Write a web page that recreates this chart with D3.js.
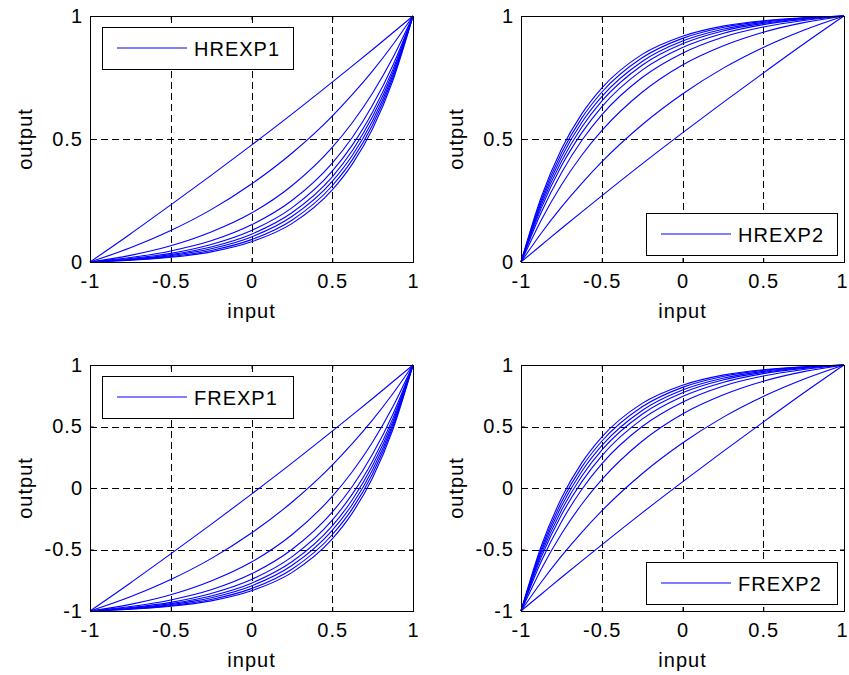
<!DOCTYPE html>
<html>
<head>
<meta charset="utf-8">
<script src="https://cdn.jsdelivr.net/npm/d3@7"></script>
<style>
  body { margin: 0; background: #fff; }
  svg { display: block; font-family: "Liberation Sans", Arial, Helvetica, sans-serif; }
</style>
</head>
<body>
<svg id="chart" width="849" height="675"></svg>
<script>
// sample inputs (read at these x positions)
const xsRise = [-1, -0.75, -0.5, -0.25, 0, 0.25, 0.5, 0.625, 0.75, 0.875, 1];
const xsSat  = [-1, -0.875, -0.75, -0.625, -0.5, -0.25, 0, 0.25, 0.5, 0.75, 1];

const hrexp1 = [
    [0, .114, .232, .352, .475, .601, .731, .797, .864, .932, 1],
    [0, .058, .128, .213, .317, .442, .593, .681, .777, .883, 1],
    [0, .027, .066, .122, .199, .310, .466, .567, .687, .830, 1],
    [0, .018, .045, .086, .151, .250, .402, .507, .638, .799, 1],
    [0, .014, .035, .071, .128, .220, .369, .476, .610, .782, 1],
    [0, .011, .030, .061, .113, .200, .346, .453, .591, .769, 1],
    [0, .009, .026, .054, .102, .185, .328, .434, .574, .758, 1],
    [0, .008, .022, .047, .091, .170, .310, .416, .558, .748, 1],
    [0, .007, .019, .041, .082, .156, .293, .399, .542, .737, 1]
];

const hrexp2 = [
    [0, .068, .136, .203, .269, .399, .525, .648, .768, .886, 1],
    [0, .117, .223, .319, .407, .558, .683, .787, .872, .942, 1],
    [0, .170, .313, .433, .534, .690, .801, .878, .934, .973, 1],
    [0, .201, .362, .493, .598, .750, .849, .914, .955, .982, 1],
    [0, .218, .390, .524, .631, .780, .872, .929, .965, .986, 1],
    [0, .231, .409, .547, .654, .800, .887, .939, .970, .989, 1],
    [0, .242, .426, .566, .672, .815, .898, .946, .974, .991, 1],
    [0, .252, .442, .584, .690, .830, .909, .953, .978, .992, 1],
    [0, .263, .458, .601, .707, .844, .918, .959, .981, .993, 1]
];

const frexp1 = [
    [-1, -.772, -.536, -.296, -.050, .202, .462, .594, .728, .864, 1],
    [-1, -.884, -.744, -.574, -.366, -.116, .186, .362, .554, .766, 1],
    [-1, -.946, -.868, -.756, -.602, -.380, -.068, .134, .374, .660, 1],
    [-1, -.964, -.910, -.828, -.698, -.500, -.196, .014, .276, .598, 1],
    [-1, -.972, -.930, -.858, -.744, -.560, -.262, -.048, .220, .564, 1],
    [-1, -.978, -.940, -.878, -.774, -.600, -.308, -.094, .182, .538, 1],
    [-1, -.982, -.948, -.892, -.796, -.630, -.344, -.132, .148, .516, 1],
    [-1, -.984, -.956, -.906, -.818, -.660, -.380, -.168, .116, .496, 1],
    [-1, -.986, -.962, -.918, -.836, -.688, -.414, -.202, .084, .474, 1]
];

const frexp2 = [
    [-1, -.864, -.728, -.594, -.462, -.202, .050, .296, .536, .772, 1],
    [-1, -.766, -.554, -.362, -.186, .116, .366, .574, .744, .884, 1],
    [-1, -.660, -.374, -.134, .068, .380, .602, .756, .868, .946, 1],
    [-1, -.598, -.276, -.014, .196, .500, .698, .828, .910, .964, 1],
    [-1, -.564, -.220, .048, .262, .560, .744, .858, .930, .972, 1],
    [-1, -.538, -.182, .094, .308, .600, .774, .878, .940, .978, 1],
    [-1, -.516, -.148, .132, .344, .630, .796, .892, .948, .982, 1],
    [-1, -.496, -.116, .168, .380, .660, .818, .906, .956, .984, 1],
    [-1, -.474, -.084, .202, .414, .688, .836, .918, .962, .986, 1]
];

const xTicks = [-1, -0.5, 0, 0.5, 1];
const yTicksHalf = [0, 0.5, 1];
const yTicksFull = [-1, -0.5, 0, 0.5, 1];

const BLUE = "#0000ff";
const FONT = 20;

const panels = [
    { name: "HREXP1", xs: xsRise, curves: hrexp1, yTicks: yTicksHalf, x: 90,  y: 16,  legend: "tl" },
    { name: "HREXP2", xs: xsSat,  curves: hrexp2, yTicks: yTicksHalf, x: 521, y: 16,  legend: "br" },
    { name: "FREXP1", xs: xsRise, curves: frexp1, yTicks: yTicksFull, x: 90,  y: 365, legend: "tl" },
    { name: "FREXP2", xs: xsSat,  curves: frexp2, yTicks: yTicksFull, x: 521, y: 365, legend: "br" }
];
const PW = 323, PH = 246;

const svg = d3.select("#chart");
const fmt = d => String(d);

panels.forEach(p => {
    const g = svg.append("g").attr("transform", `translate(${p.x},${p.y})`);
    const x = d3.scaleLinear().domain([-1, 1]).range([0, PW]);
    const y = d3.scaleLinear().domain(d3.extent(p.yTicks)).range([PH, 0]);

    // grid
    const grid = g.append("g")
        .attr("stroke", "#000")
        .attr("stroke-width", 1)
        .attr("stroke-dasharray", "7,4");
    grid.selectAll("line.gx")
        .data(xTicks.slice(1, -1))
        .join("line")
        .attr("class", "gx")
        .attr("x1", d => Math.round(x(d)) + 0.5).attr("x2", d => Math.round(x(d)) + 0.5)
        .attr("y1", 0).attr("y2", PH);
    grid.selectAll("line.gy")
        .data(p.yTicks.slice(1, -1))
        .join("line")
        .attr("class", "gy")
        .attr("x1", 0).attr("x2", PW)
        .attr("y1", d => Math.round(y(d)) + 0.5).attr("y2", d => Math.round(y(d)) + 0.5);

    // curves
    const line = d3.line()
        .x((d, i) => x(p.xs[i]))
        .y(d => y(d))
        .curve(d3.curveMonotoneX);
    g.append("g").selectAll("path")
        .data(p.curves)
        .join("path")
        .attr("d", line)
        .attr("fill", "none")
        .attr("stroke", BLUE)
        .attr("stroke-width", 1.1);

    // axes (ticks inside, MATLAB style)
    g.append("g").attr("transform", `translate(0,${PH})`)
        .call(d3.axisBottom(x).tickValues(xTicks).tickFormat(fmt).tickSize(-4).tickPadding(12));
    g.append("g")
        .call(d3.axisLeft(y).tickValues(p.yTicks).tickFormat(fmt).tickSize(-4).tickPadding(7));
    g.append("g").call(d3.axisTop(x).tickValues(xTicks).tickFormat("").tickSize(-4));
    g.append("g").attr("transform", `translate(${PW},0)`)
        .call(d3.axisRight(y).tickValues(p.yTicks).tickFormat("").tickSize(-4));
    g.selectAll(".domain").remove();
    g.selectAll(".tick line").attr("stroke", "#000");
    g.selectAll(".tick text")
        .attr("font-size", FONT)
        .attr("font-family", "Liberation Sans, Arial, sans-serif")
        .attr("letter-spacing", 1)
        .attr("fill", "#000");
    // keep the last x label inside the page on the right-hand panels
    if (p.x + PW > 800) {
        g.selectAll(".tick text").filter(d => d === 1 && xTicks.includes(d))
            .filter(function () { return this.textContent === "1" && this.getAttribute("dy") === "0.71em"; })
            .attr("dx", -2);
    }

    g.append("rect")
        .attr("x", 0.5).attr("y", 0.5)
        .attr("width", PW).attr("height", PH)
        .attr("fill", "none")
        .attr("stroke", "#000")
        .attr("stroke-width", 1);

    // axis titles
    g.append("text")
        .attr("x", PW / 2).attr("y", PH + 56)
        .attr("text-anchor", "middle")
        .attr("font-size", FONT)
        .attr("letter-spacing", 1)
        .text("input");
    g.append("text")
        .attr("transform", `translate(${-58},${PH / 2}) rotate(-90)`)
        .attr("text-anchor", "middle")
        .attr("font-size", FONT)
        .attr("letter-spacing", 1)
        .text("output");

    // legend
    const lw = 191, lh = 42;
    const lx = p.legend === "tl" ? 12 : 125;
    const ly = p.legend === "tl" ? 11 : PH - lh - 7;
    const lg = g.append("g").attr("transform", `translate(${lx},${ly})`);
    lg.append("rect")
        .attr("x", 0.5).attr("y", 0.5)
        .attr("width", lw).attr("height", lh)
        .attr("fill", "#fff")
        .attr("stroke", "#000");
    lg.append("line")
        .attr("x1", 15).attr("x2", 85)
        .attr("y1", lh / 2).attr("y2", lh / 2)
        .style("stroke", BLUE)
        .style("stroke-width", 1.2);
    lg.append("text")
        .attr("x", 92).attr("y", lh / 2 + 8)
        .attr("font-size", FONT)
        .attr("letter-spacing", 1)
        .text(p.name);
});
</script>
</body>
</html>
